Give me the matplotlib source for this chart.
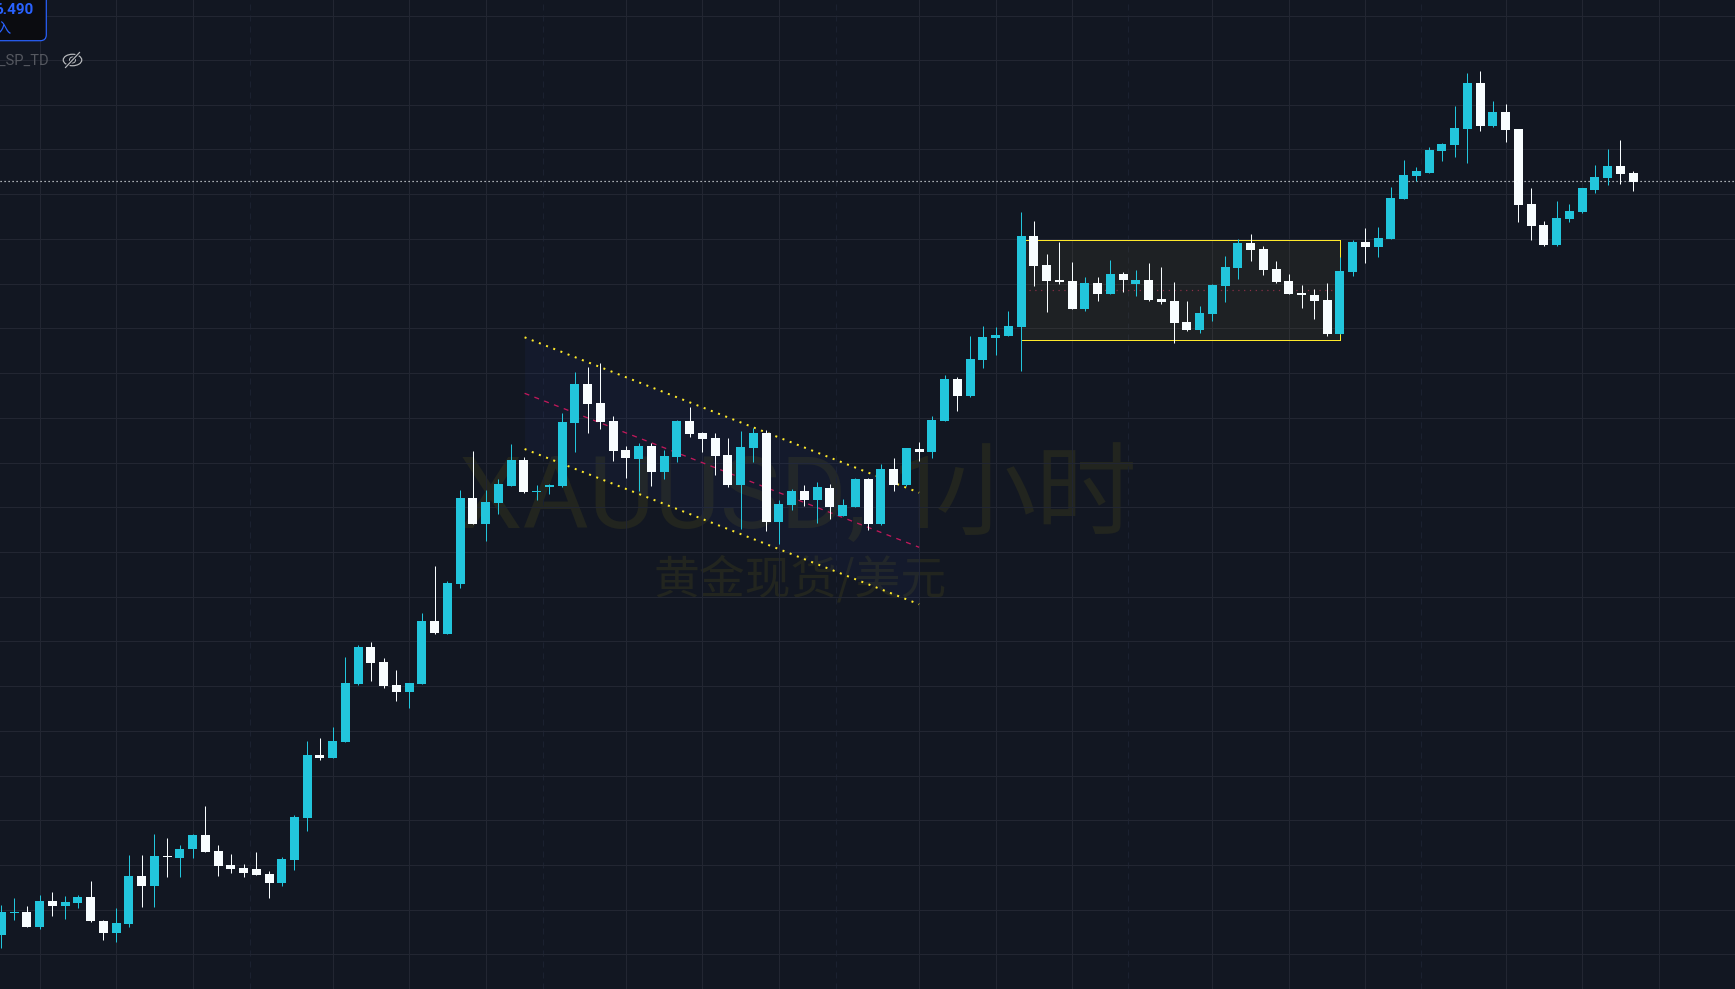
import numpy as np
import matplotlib
matplotlib.use("Agg")
import matplotlib.pyplot as plt
from matplotlib.patches import FancyBboxPatch, Rectangle, Ellipse

# =====================================
# DATA (prices on the chart's own scale)
# =====================================

opens = [54, 76, 77, 62, 88, 83, 86, 92, 68, 56, 65, 113, 103, 133, 131, 140, 154, 138, 124, 121, 120, 115, 106, 129,
         171, 234, 231, 247, 305, 342, 327, 304, 297, 305, 368, 355, 405, 491, 465, 486, 503, 529, 497.5, 502, 503,
         566, 605, 586, 568, 539, 530, 543, 517, 532, 568, 556, 551, 534, 504, 541, 556, 467, 484, 498, 489, 501,
         473, 482, 510, 465, 520, 504, 540, 537, 568, 610, 593, 629, 651, 653, 662, 753, 724, 709, 708, 680, 706,
         695, 715, 705, 709, 690, 688, 667, 659, 675, 703, 721, 746, 740, 720, 708, 696, 694, 689, 655, 717, 747,
         742, 750, 790, 813, 816, 838, 844, 860, 906, 863, 877, 860, 785, 764, 744, 770, 777, 799, 811, 823, 816]
highs = [84, 91, 83, 94, 97, 93, 94, 108, 69, 81, 134, 134, 155, 151, 144, 155, 183, 144, 135, 125, 137, 118, 132, 174,
         248, 251, 262, 332, 344, 347, 331, 319, 306, 376, 423, 408, 499, 538, 499, 510, 545, 532, 504, 505, 576,
         617, 622, 626, 573, 543, 546, 546, 539, 569, 582, 557, 556, 551, 558, 561, 559, 489, 500, 504, 507, 505,
         490, 511, 511, 525, 531, 541, 547, 573, 614, 612, 653, 663, 662, 678, 777, 768, 735, 747, 727, 712, 712,
         729, 717, 719, 726, 722, 707, 688, 683, 705, 733, 750, 755, 743, 728, 715, 704, 700, 706, 732, 749, 761,
         762, 802, 829, 822, 842, 846, 883, 916, 918, 888, 885, 860, 801, 768, 788, 785, 801, 824, 840, 849, 818]
lows = [41, 69, 62, 60, 73, 70, 81, 67, 49, 47, 62, 82, 82, 112, 112, 131, 137, 113, 116, 112, 114, 91, 103, 119,
        158, 229, 231, 247, 304, 308, 301, 288, 281, 305, 355, 355, 401, 465, 448, 475, 503, 496, 489, 495, 502,
        537, 556, 560, 528, 511, 498, 503, 510, 527, 552, 537, 514, 502, 460, 527, 458, 445, 479, 483, 466, 470,
        473, 482, 459, 464, 498, 503, 528, 531, 568, 578, 592, 621, 634, 653, 618, 703, 677, 705, 680, 678, 688,
        695, 697, 693, 688, 685, 646, 658, 656, 668, 687, 710, 728, 714, 706, 695, 681, 670, 653, 655, 713, 726,
        732, 750, 790, 808, 816, 828, 832, 826, 858, 862, 847, 767, 749, 743, 743, 767, 776, 796, 804, 805, 798]
closes = [77, 77, 62, 88, 83, 87, 92, 68, 56, 66, 113, 103, 133, 132, 140, 154, 137, 123, 120, 116, 114, 106, 130, 172,
          234, 231, 248, 306, 342, 326, 303, 297, 306, 368, 356, 406, 491, 465, 487, 505, 529, 497, 498, 504, 567,
          605, 585, 567, 538, 531, 543, 517, 533, 568, 555, 550, 533, 504, 542, 556, 467, 485, 498, 489, 502, 482,
          484, 510, 465, 520, 504, 541, 537, 569, 610, 593, 630, 652, 654, 663, 753, 723, 708, 707, 680, 706, 695,
          715, 709, 709, 689, 687, 666, 659, 676, 704, 722, 746, 739, 719, 707, 695, 694, 688, 655, 718, 747, 742,
          751, 791, 814, 818, 839, 845, 861, 906, 863, 877, 859, 784, 763, 744, 771, 778, 801, 812, 823, 815, 807]

# gridlines sit on candle numbers / price levels
grid_candles = [3, 9, 15, 26, 32, 38, 49, 55, 61, 72, 78, 84, 95, 101, 107, 118, 124, 130, 136]
session_candles = [19.53, 42.5, 65.5, 88.4, 111.4]
grid_prices = [973.5, 928.7, 883.7, 839.7, 794.7, 749.7, 704.7, 660.7, 615.7, 571, 526, 482,
               437, 392, 348, 302.7, 257.7, 212.7, 168.7, 123.7, 78.7, 34.7]

last_price = 807.7

# drawings on the chart
channel_x = [41.05, 72.0]
channel_upper = [651.7, 496.3]
channel_middle = [595.7, 441.7]
channel_lower = [540.0, 384.7]

range_x = [80.0, 105.0]
range_top = 748.7
range_bottom = 648.7
range_mid = 698.7

# =====================================
# SETTINGS
# =====================================

W, H = 1735, 989
PX = 0.72  # one pixel in points at dpi 100

BG = "#121722"
GRID = "#222632"
TEAL = "#22C5DC"
WHITE = "#F8FDFF"
YELLOW = "#FFE92B"
PINK = "#C2185B"
MARK = "#22251F"

plt.rcParams["font.family"] = ["Noto Sans CJK SC", "DejaVu Sans"]
plt.rcParams["lines.scale_dashes"] = False

fig = plt.figure(figsize=(W / 100, H / 100), dpi=100, facecolor=BG)
ax = fig.add_axes([0, 0, 1, 1], facecolor=BG)

# 12.75 px per candle, first candle at x = 1.3 px
ax.set_xlim(-1.3 / 12.75, (W - 1.3) / 12.75)
ax.set_ylim(0, H)

ax.set_xticks(grid_candles)
ax.set_yticks(grid_prices)
ax.grid(True, color=GRID, lw=1.0 * PX, zorder=0)
ax.set_axisbelow(True)
ax.tick_params(length=0, labelbottom=False, labelleft=False)
for spine in ax.spines.values():
    spine.set_visible(False)

for c in session_candles:
    ax.axvline(c, color="#1B2130", lw=1.0 * PX, ls=(0, (6 * PX, 5 * PX)), zorder=0.5)

# =====================================
# WATERMARK
# =====================================

# latin part and chinese part placed apart, the space width differs between fonts
fig.text(459 / W, 1 - 528 / H, "XAUUSD, 1", color=MARK, fontsize=73, family="Roboto",
         ha="left", va="baseline", zorder=0.6)
fig.text(1138 / W, 1 - 528 / H, "小时", color=MARK, fontsize=73,
         ha="right", va="baseline", zorder=0.6)
fig.text(800 / W, 1 - 594 / H, "黄金现货/美元", color=MARK, fontsize=33,
         ha="center", va="baseline", zorder=0.6)
ax.set_zorder(1)
ax.patch.set_alpha(0)

# =====================================
# DRAWINGS UNDER THE CANDLES
# =====================================

ax.fill_between(channel_x, channel_lower, channel_upper, color="#2A3C8C", alpha=0.10, lw=0, zorder=1)
ax.plot(channel_x, channel_upper, color=YELLOW, lw=2 * PX, ls=(0, (2 * PX, 5.7 * PX)), zorder=1.2)
ax.plot(channel_x, channel_lower, color=YELLOW, lw=2 * PX, ls=(0, (2 * PX, 5.7 * PX)), zorder=1.2)
ax.plot(channel_x, channel_middle, color=PINK, lw=1.3 * PX, ls=(0, (5 * PX, 5.5 * PX)), zorder=1.2)

ax.add_patch(Rectangle((range_x[0], range_bottom), range_x[1] - range_x[0], range_top - range_bottom,
                       facecolor=(1.0, 0.87, 0.29, 0.05), edgecolor="none", zorder=1))
ax.add_patch(Rectangle((range_x[0], range_bottom), range_x[1] - range_x[0], range_top - range_bottom,
                       facecolor="none", edgecolor=YELLOW, lw=1.0 * PX, antialiased=False, zorder=1.2))
ax.plot([range_x[0] + 0.6, range_x[1] - 0.35], [range_mid, range_mid], color="#8A3048", lw=1.2 * PX,
        ls=(0, (1.2 * PX, 4.6 * PX)), zorder=1.2)

ax.axhline(last_price, color="#E8ECEF", lw=1.2 * PX, ls=(0, (1.2 * PX, 2.8 * PX)), zorder=1.5)

# =====================================
# CANDLES
# =====================================

idx = np.arange(len(opens))
o = np.array(opens, dtype=float)
h = np.array(highs, dtype=float)
l = np.array(lows, dtype=float)
c = np.array(closes, dtype=float)
colors = [TEAL if up else WHITE for up in c >= o]

ax.vlines(idx, l, h, colors=colors, lw=1.0 * PX, zorder=2)
ax.bar(idx, np.maximum(np.abs(c - o), 1.0), bottom=np.minimum(o, c), width=9 / 12.75, color=colors,
       lw=0, zorder=3)

# =====================================
# TOP LEFT OVERLAY
# =====================================

over = fig.add_axes([0, 0, 1, 1], facecolor="none", zorder=5)
over.set_xlim(0, W)
over.set_ylim(H, 0)
over.axis("off")

over.add_patch(FancyBboxPatch((-20, -20), 66.3, 60.7, boxstyle="round,pad=0,rounding_size=6",
                              facecolor="#0B0C10", edgecolor="#2962FF", lw=1.2 * PX))
over.text(33.5, 10, "6.490", color="#2962FF", fontsize=11, fontweight="bold", family="Roboto",
          ha="right", va="center")
over.text(11.5, 28.5, "买入", color="#2962FF", fontsize=10.5, ha="right", va="center")
over.text(49.5, 61, "XAUUSD_SP_TD", color="#555860", fontsize=10.5, family="Roboto", ha="right", va="center")

# hidden-eye icon
over.add_patch(Ellipse((72.5, 60), 18.5, 11.5, facecolor="none", edgecolor="#B8BABD", lw=1.2 * PX))
over.add_patch(Ellipse((72.5, 60), 6, 6, facecolor="none", edgecolor="#B8BABD", lw=1.0 * PX))
over.plot([65.5, 79.5], [67.5, 52.5], color=BG, lw=3.2 * PX)
over.plot([65.5, 79.5], [67.5, 52.5], color="#B8BABD", lw=1.2 * PX)

fig.savefig("out.png", dpi=100, facecolor=BG)
